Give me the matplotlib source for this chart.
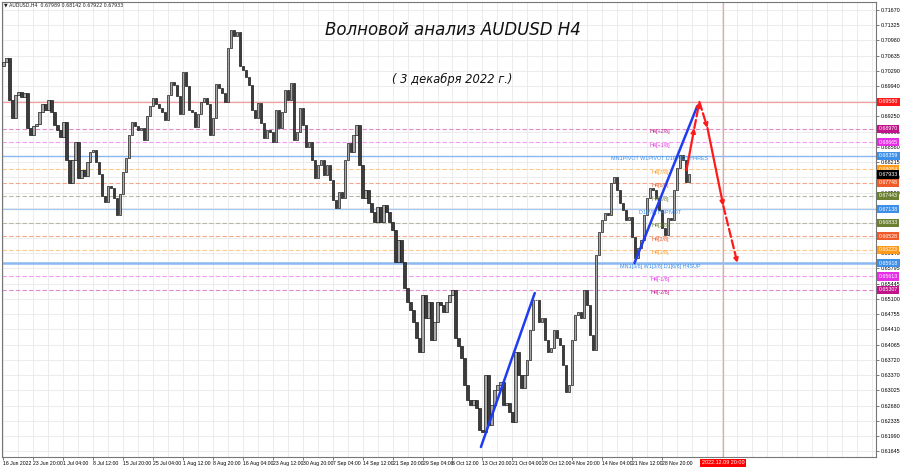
import numpy as np
import matplotlib
matplotlib.use("Agg")
import matplotlib.pyplot as plt
import matplotlib.transforms as mtransforms

# Цены закрытия H4 (примерно одна точка на 3 бара)
first_open = 0.70400
closes = [
    0.70488, 0.70579, 0.69624, 0.69215, 0.69738, 0.69806, 0.69692, 0.69783, 0.68988, 0.68828,
    0.69033, 0.69078, 0.69351, 0.69533, 0.69397, 0.69624, 0.69351, 0.69056, 0.68942, 0.68783,
    0.69124, 0.68260, 0.67737, 0.68260, 0.68669, 0.67851, 0.68033, 0.67897, 0.68215, 0.68442,
    0.68487, 0.68215, 0.67942, 0.67442, 0.67306, 0.67669, 0.67624, 0.67396, 0.67010, 0.67487,
    0.67987, 0.68306, 0.68828, 0.69124, 0.69033, 0.68942, 0.68988, 0.68715, 0.69260, 0.69488,
    0.69669, 0.69533, 0.69442, 0.69351, 0.69169, 0.69738, 0.70033, 0.69965, 0.69715, 0.69306,
    0.70260, 0.69942, 0.69397, 0.69351, 0.69010, 0.69306, 0.69579, 0.69669, 0.69533, 0.68828,
    0.69215, 0.69988, 0.69897, 0.69783, 0.69579, 0.70806, 0.71215, 0.71079, 0.71170, 0.70397,
    0.70306, 0.70147, 0.69965, 0.69397, 0.69215, 0.69556, 0.69101, 0.68760, 0.68942, 0.68897,
    0.68669, 0.69397, 0.68988, 0.69351, 0.69851, 0.69624, 0.70010, 0.68715, 0.68897, 0.69442,
    0.69056, 0.68556, 0.68669, 0.68260, 0.67851, 0.68147, 0.68260, 0.67919, 0.68147, 0.67806,
    0.67351, 0.67169, 0.67533, 0.67396, 0.68260, 0.68647, 0.68442, 0.68828, 0.69056, 0.68147,
    0.67396, 0.67578, 0.67283, 0.67078, 0.66851, 0.67192, 0.66851, 0.67237, 0.67078, 0.66851,
    0.66669, 0.65942, 0.66442, 0.65942, 0.65351, 0.65033, 0.64851, 0.64578, 0.64214, 0.63896,
    0.65192, 0.64669, 0.65033, 0.64169, 0.64578, 0.65033, 0.64964, 0.64805, 0.65033, 0.65192,
    0.65305, 0.64214, 0.64032, 0.63760, 0.63146, 0.62805, 0.62691, 0.62805, 0.62623, 0.62123,
    0.62078, 0.63373, 0.62237, 0.62691, 0.63032, 0.63146, 0.63214, 0.62691, 0.62737, 0.62532,
    0.62305, 0.63896, 0.63373, 0.63078, 0.63373, 0.63714, 0.64396, 0.65078, 0.65078, 0.64578,
    0.64669, 0.64169, 0.63896, 0.63987, 0.64396, 0.64214, 0.64055, 0.63601, 0.62987, 0.63146,
    0.64169, 0.64737, 0.64805, 0.64669, 0.65305, 0.64964, 0.64282, 0.63941, 0.66101, 0.66624,
    0.66896, 0.67056, 0.67010, 0.67737, 0.67874, 0.67578, 0.67283, 0.67124, 0.66896, 0.66965,
    0.66510, 0.66033, 0.66260, 0.66442, 0.67010, 0.67396, 0.67624, 0.67578, 0.67396, 0.67124,
    0.66715, 0.66555, 0.66942, 0.66896, 0.67578, 0.68078, 0.68374, 0.68260, 0.67760, 0.67933,
]

date_labels = [
    "16 Jun 2022", "23 Jun 20:00", "1 Jul 04:00", "8 Jul 12:00", "15 Jul 20:00",
    "25 Jul 04:00", "1 Aug 12:00", "8 Aug 20:00", "16 Aug 04:00", "23 Aug 12:00",
    "30 Aug 20:00", "7 Sep 04:00", "14 Sep 12:00", "21 Sep 20:00", "29 Sep 04:00",
    "6 Oct 12:00", "13 Oct 20:00", "21 Oct 04:00", "28 Oct 12:00", "4 Nov 20:00",
    "14 Nov 04:00", "21 Nov 12:00", "28 Nov 20:00",
]

price_ticks = [
    0.71670, 0.71325, 0.70980, 0.70635, 0.70290, 0.69940, 0.69595, 0.69250, 0.68905, 0.68560,
    0.68215, 0.67870, 0.67520, 0.67175, 0.66830, 0.66485, 0.66140, 0.65795, 0.65445, 0.65100,
    0.64755, 0.64410, 0.64065, 0.63720, 0.63370, 0.63025, 0.62680, 0.62335, 0.61990, 0.61645,
]

# Уровни Мюррея / пивоты
level_prices = [0.69580, 0.68970, 0.68665, 0.68359, 0.68054, 0.67748, 0.67443,
                0.67138, 0.66833, 0.66528, 0.66223, 0.65918, 0.65613, 0.65307]
level_names = ["", "H4[+2/8]", "H4[+1/8]", "MN1PIVOT W1PIVOT D1PIVOT H4RES", "H4[7/8]",
               "H4[6/8]", "H4[5/8]", "D1[7/8] H4PIVOT", "H4[3/8]", "H4[2/8]", "H4[1/8]",
               "MN1[3/8] W1[3/8] D1[6/8] H4SUP", "H4[-1/8]", "H4[-2/8]"]
current_price = 0.67933

# Волновая разметка (бар, цена)
blue_wave_1 = ([159.5, 177.5], [0.61737, 0.65237])
blue_wave_2 = ([210.8, 231.8], [0.65918, 0.69488])
red_wave_bars = [228.2, 230.8, 232.5, 235.2, 240.5, 245.2]
red_wave_prices = [0.68033, 0.68988, 0.69580, 0.68988, 0.67215, 0.65918]
red_wave_dashed = [False, True, True, False, True]
vline_bar = 240.5
vline_label = "2022.12.09 20:00"

# --- стили уровней
RED = "#ff1a1a"
DMAG = "#c0158a"
MAG = "#e62ee6"
BLUE = "#3d8fe8"
ORANGE = "#ff9a1a"
ORED = "#f05a28"
OLIVE = "#6b8030"
level_styles = [
    (RED, "#f4a0a0", "-", 0.9),
    (DMAG, "#e08ccc", "--", 0.8),
    (MAG, "#f59af5", "--", 0.8),
    (BLUE, "#8ab8f0", "-", 1.0),
    (ORANGE, "#ffc98a", "--", 0.8),
    (ORED, "#f7a68a", "--", 0.8),
    (OLIVE, "#b8b8a8", "--", 0.8),
    (BLUE, "#a6c9f2", "-", 0.9),
    (OLIVE, "#b8b8a8", "--", 0.8),
    (ORED, "#f7a68a", "--", 0.8),
    (ORANGE, "#ffc98a", "--", 0.8),
    (BLUE, "#8ab8f0", "-", 1.8),
    (MAG, "#f59af5", "--", 0.8),
    (DMAG, "#e08ccc", "--", 0.8),
]
SMALL = "Liberation Sans"

fig = plt.figure(figsize=(9, 4.68), dpi=100)
ax = fig.add_axes([2 / 900, 1 - 457 / 468, 874 / 900, 455 / 468])

ax.set_xlim(-0.5, 291.5)
ax.set_ylim(0.61510, 0.71852)

# сетка
for t in price_ticks:
    ax.axhline(t, color="#e9e9e9", lw=0.6, zorder=0)
for k in range(0, 59):
    ax.axvline(5 * k, color="#e9e9e9", lw=0.6, zorder=0)

# уровни
for price, name, (box_c, line_c, ls, lw) in zip(level_prices, level_names, level_styles):
    ax.axhline(price, color=line_c, ls=ls, lw=lw, dashes=(4, 2) if ls == "--" else (None, None), zorder=1)
    if name:
        ax.text(219.3, price - 0.00012, name, color=box_c, fontsize=3.9, family=SMALL,
                ha="center", va="top", zorder=4)

ax.axvline(vline_bar, color="#f4a0a0", lw=0.9, zorder=1)

# свечи
c = np.array(closes)
o = np.r_[first_open, c[:-1]]
idx = np.arange(len(c))
up = c >= o
ax.bar(idx, np.abs(c - o), bottom=np.minimum(o, c), width=0.8,
       color=np.where(up, "#a8a8a8", "#3c3c3c"), edgecolor="#1a1a1a", linewidth=0.5, zorder=3)

# волны
ax.plot(*blue_wave_1, color="#1f3cf0", lw=1.8, zorder=5, solid_capstyle="round")
ax.plot(*blue_wave_2, color="#1f3cf0", lw=1.8, zorder=5, solid_capstyle="round")
for i, dashed in enumerate(red_wave_dashed):
    x0, x1 = red_wave_bars[i], red_wave_bars[i + 1]
    y0, y1 = red_wave_prices[i], red_wave_prices[i + 1]
    ax.annotate("", xy=(x1, y1), xytext=(x0, y0),
                arrowprops=dict(arrowstyle="-|>", color="#ff1a1a", lw=1.6,
                                linestyle="--" if dashed else "-",
                                mutation_scale=6, shrinkA=0, shrinkB=0),
                zorder=6)

# заголовок
ax.text(150, 0.71220, "Волновой анализ AUDUSD H4", fontsize=12, style="italic",
        family="DejaVu Sans", ha="center", va="center", color="#111111")
ax.text(150, 0.70100, "( 3 декабря 2022 г.)", fontsize=8.3, style="italic",
        family="DejaVu Sans", ha="center", va="center", color="#111111")
ax.text(0.3, 0.71790, "▼ AUDUSD,H4  0.67989 0.68142 0.67922 0.67933", fontsize=3.4,
        ha="left", va="center", color="#222222")

# оси (подписи, закрытые плашками уровней, скрываются, как в терминале)
tick_text = [("" if min(abs(t - p) for p in level_prices) < 0.0005 else f"{t:.5f}")
             for t in price_ticks]
ax.yaxis.tick_right()
ax.set_yticks(price_ticks)
ax.set_yticklabels(tick_text, fontsize=3.9, family=SMALL)
ax.set_xticks(np.arange(len(date_labels)) * 10)
ax.set_xticklabels(date_labels, fontsize=3.7, family=SMALL, ha="left")
ax.tick_params(axis="both", length=2, width=0.5, pad=1.2, color="#444444")
for s in ax.spines.values():
    s.set_color("#777777")
    s.set_linewidth(0.8)

# плашки цен справа
trans = mtransforms.blended_transform_factory(ax.transAxes, ax.transData)
for price, (box_c, _, _, _) in zip(level_prices, level_styles):
    ax.text(1.003, price, f"{price:.5f}", transform=trans, fontsize=3.8, family=SMALL,
            color="white", ha="left", va="center", clip_on=False, zorder=10,
            bbox=dict(boxstyle="square,pad=0.3", fc=box_c, ec="none"))
ax.text(1.003, current_price, f"{current_price:.5f}", transform=trans, fontsize=3.8,
        family=SMALL, color="white", ha="left", va="center", clip_on=False, zorder=10,
        bbox=dict(boxstyle="square,pad=0.3", fc="black", ec="none"))

transx = mtransforms.blended_transform_factory(ax.transData, ax.transAxes)
ax.text(vline_bar, -0.007, vline_label, transform=transx, fontsize=3.9, family=SMALL,
        color="white", ha="center", va="top", clip_on=False, zorder=10,
        bbox=dict(boxstyle="square,pad=0.3", fc="#ff0000", ec="none"))

fig.savefig("out.png", dpi=100, facecolor="white")
